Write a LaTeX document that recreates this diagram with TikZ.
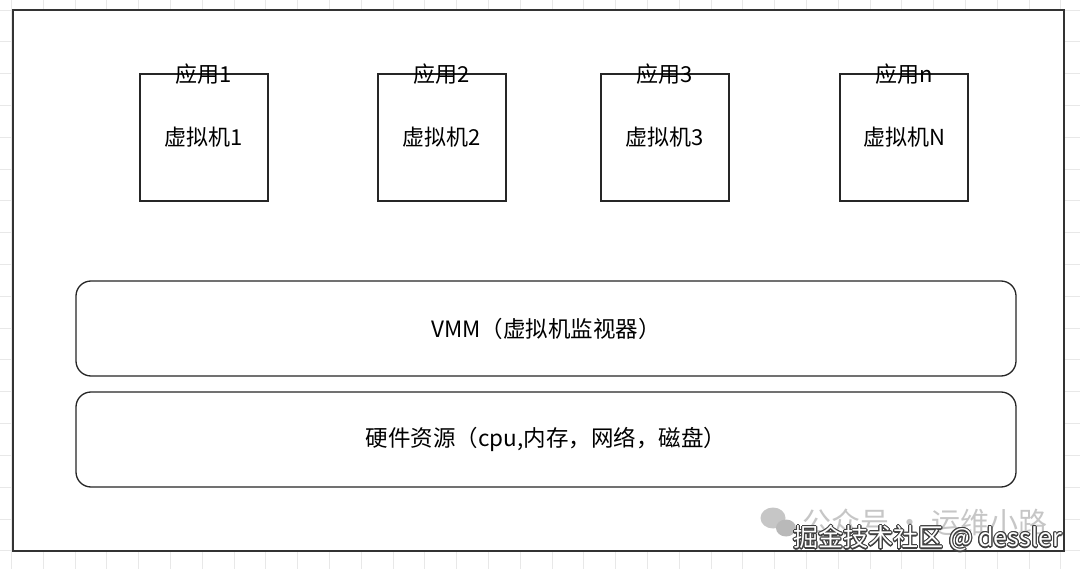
\documentclass[tikz,border=0pt]{standalone}
\usepackage{fontspec}
\setmainfont{Noto Sans CJK SC}
\usepackage{contour}
\contourlength{1.1pt}
\tikzset{
  gridline/.style={gray!18, line width=0.6pt},
  frame/.style={draw=black!80, line width=1.6pt},
  vmbox/.style={draw=black!85, line width=1.3pt, minimum width=128pt, minimum height=127pt, inner sep=0pt, font=\fontsize{22}{26}\selectfont},
  applabel/.style={inner sep=0pt, font=\fontsize{22}{26}\selectfont},
  layer/.style={draw=black!85, line width=1.3pt, rounded corners=15pt, minimum width=940pt, minimum height=95pt, inner sep=0pt, font=\fontsize{22.5}{26}\selectfont},
  wmgray/.style={text=gray!45, inner sep=0pt, font=\fontsize{29}{32}\selectfont},
  wmwhite/.style={text=white, inner sep=0pt, font=\fontsize{25}{29}\selectfont}
}
\begin{document}
\begin{tikzpicture}[x=1pt,y=-1pt]
\useasboundingbox (0,0) rectangle (1080,569);
\fill[white] (0,0) rectangle (1080,569);
% background grid
\begin{scope}[shift={(11.2,10)}]
\draw[gridline, xstep=31.8pt, ystep=31.8pt] (-11.2,-10) grid (1068.8,559);
\end{scope}
% outer frame
\draw[frame, fill=white] (13,10) rectangle (1064,551);
% virtual machines
\node[vmbox] (vm1) at (204,137.5) {虚拟机1};
\node[vmbox] (vm2) at (442,137.5) {虚拟机2};
\node[vmbox] (vm3) at (665,137.5) {虚拟机3};
\node[vmbox] (vm4) at (904,137.5) {虚拟机N};
\node[applabel] (app1) at ([yshift=-1pt]vm1.north) {应用1};
\node[applabel] (app2) at ([yshift=-1pt]vm2.north) {应用2};
\node[applabel] (app3) at ([yshift=-1pt]vm3.north) {应用3};
\node[applabel] (app4) at ([yshift=-1pt]vm4.north) {应用n};
% layers
\node[layer] (vmm) at (546,328.5) {VMM（虚拟机监视器）};
\node[layer] (hw) at (546,439.5) {硬件资源（cpu,内存，网络，磁盘）};
% watermark
\fill[gray!45] (773,518) ellipse (12.5pt and 10.5pt);
\fill[gray!55] (786,528) ellipse (10pt and 8.5pt);
\node[wmgray, anchor=west] (wm1) at (802,522) {公众号 · 运维小路};
\node[wmwhite, anchor=east] (wm2) at (1062,539) {\contour{black!75}{掘金技术社区 @ dessler}};
\end{tikzpicture}
\end{document}
